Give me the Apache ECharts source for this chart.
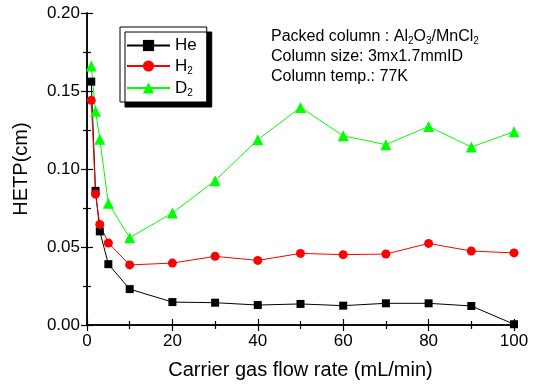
<!DOCTYPE html>
<html>
<head>
<meta charset="utf-8">
<script src="https://cdn.jsdelivr.net/npm/echarts@6/dist/echarts.min.js"></script>
<style>
  html, body { margin: 0; padding: 0; background: #fff; }
  #main { width: 534px; height: 387px; }
</style>
</head>
<body>
<div id="main"></div>
<script>
// carrier gas flow rate (mL/min)
var flowRates = [1, 2, 3, 5, 10, 20, 30, 40, 50, 60, 70, 80, 90, 100];
// HETP (cm) per carrier gas
var heValues = [0.156, 0.086, 0.060, 0.039, 0.023, 0.0147, 0.0143, 0.0128, 0.0135, 0.0124, 0.0139, 0.0139, 0.0122, 0.0005];
var h2Values = [0.144, 0.084, 0.0645, 0.0526, 0.0385, 0.0397, 0.044, 0.0414, 0.0459, 0.0451, 0.0455, 0.0523, 0.0474, 0.0462];
var d2Values = [0.166, 0.137, 0.119, 0.078, 0.056, 0.0718, 0.0925, 0.1188, 0.1395, 0.1213, 0.1156, 0.1273, 0.1141, 0.1239];
var seriesNames = ['He', 'H2', 'D2'];

var font = 'Liberation Sans, Arial, sans-serif';

function pairs(ys) {
    return flowRates.map(function (x, i) { return [x, ys[i]]; });
}

var myChart = echarts.init(document.getElementById('main'));

var tickStyle = { show: true, inside: true, length: 6, lineStyle: { color: '#000', width: 1.2 } };
var minorStyle = { show: true, splitNumber: 2, length: 4, lineStyle: { color: '#000', width: 1.2 } };
var lineStyle = { show: true, lineStyle: { color: '#000', width: 1.5 } };

var option = {
    animation: false,
    backgroundColor: '#fff',
    textStyle: { fontFamily: font },
    grid: { left: 87, right: 20, top: 13, bottom: 62 },
    legend: {
        orient: 'vertical',
        left: 120,
        top: 27,
        data: seriesNames,
        itemWidth: 43,
        itemHeight: 14,
        itemGap: 3.5,
        padding: [10, 10, 4, 6],
        backgroundColor: '#fff',
        borderColor: '#000',
        borderWidth: 1,
        shadowColor: '#000',
        shadowBlur: 0,
        shadowOffsetX: 5,
        shadowOffsetY: 5,
        formatter: function (name) {
            if (name === 'He') return '{m|He}';
            return '{m|' + name[0] + '}{s|2}';
        },
        textStyle: {
            fontFamily: font,
            rich: {
                m: { fontSize: 17, color: '#000', fontFamily: font, lineHeight: 22 },
                s: { fontSize: 10, color: '#000', fontFamily: font, padding: [10, 0, 0, 0] }
            }
        }
    },
    xAxis: [{
        type: 'value',
        min: 0, max: 100, interval: 20,
        name: 'Carrier gas flow rate (mL/min)',
        nameLocation: 'middle',
        nameGap: 35,
        nameTextStyle: { fontSize: 20, color: '#000', fontFamily: font },
        axisLine: lineStyle,
        axisTick: tickStyle,
        minorTick: minorStyle,
        splitLine: { show: false },
        axisLabel: { fontSize: 17, color: '#000', margin: 8, fontFamily: font }
    }, {
        type: 'value', position: 'top',
        min: 0, max: 100, interval: 20,
        axisLine: lineStyle,
        axisTick: tickStyle,
        minorTick: minorStyle,
        splitLine: { show: false },
        axisLabel: { show: false }
    }],
    yAxis: [{
        type: 'value',
        min: 0, max: 0.2, interval: 0.05,
        name: 'HETP(cm)',
        nameLocation: 'middle',
        nameGap: 56,
        nameTextStyle: { fontSize: 20, color: '#000', fontFamily: font },
        axisLine: lineStyle,
        axisTick: tickStyle,
        minorTick: minorStyle,
        splitLine: { show: false },
        axisLabel: {
            fontSize: 17, color: '#000', margin: 7, fontFamily: font,
            formatter: function (v) { return v.toFixed(2); }
        }
    }, {
        type: 'value', position: 'right',
        min: 0, max: 0.2, interval: 0.05,
        axisLine: lineStyle,
        axisTick: tickStyle,
        minorTick: minorStyle,
        splitLine: { show: false },
        axisLabel: { show: false }
    }],
    graphic: [{
        type: 'text',
        left: 271,
        top: 27,
        style: {
            text: '{t|Packed column : Al}{s|2}{t|O}{s|3}{t|/MnCl}{s|2}\n{t|Column size: 3mx1.7mmID}\n{t|Column temp.: 77K}',
            fill: '#000',
            rich: {
                t: { fontSize: 16, fontFamily: font, fill: '#000', lineHeight: 20 },
                s: { fontSize: 10, fontFamily: font, fill: '#000', lineHeight: 20, padding: [9, 0, 0, 0] }
            }
        }
    }],
    series: [{
        name: 'He',
        type: 'line',
        data: pairs(heValues),
        symbol: 'rect',
        symbolSize: 8,
        itemStyle: { color: '#000' },
        lineStyle: { color: '#000', width: 1 }
    }, {
        name: 'H2',
        type: 'line',
        data: pairs(h2Values),
        symbol: 'circle',
        symbolSize: 9,
        itemStyle: { color: '#ff0000' },
        lineStyle: { color: '#ff0000', width: 1 }
    }, {
        name: 'D2',
        type: 'line',
        data: pairs(d2Values),
        symbol: 'triangle',
        symbolSize: 11,
        itemStyle: { color: '#00ff00' },
        lineStyle: { color: '#00ff00', width: 1 }
    }]
};
myChart.setOption(option);
</script>
</body>
</html>
